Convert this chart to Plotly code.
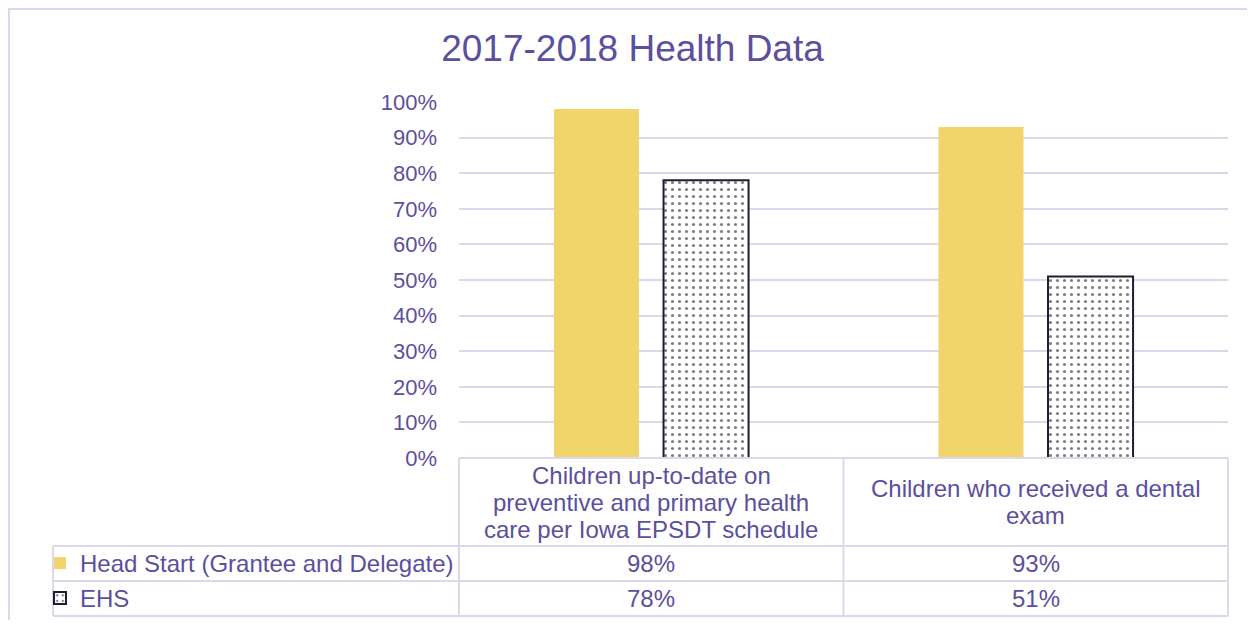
import plotly.graph_objects as go

categories = [
    "Children up-to-date on<br>preventive and primary health<br>care per Iowa EPSDT schedule",
    "Children who received a dental<br>exam",
]
series_names = ["Head Start (Grantee and Delegate)", "EHS"]
head_start = [0.98, 0.93]
ehs = [0.78, 0.51]
y_ticks = [0, 0.1, 0.2, 0.3, 0.4, 0.5, 0.6, 0.7, 0.8, 0.9, 1.0]

TXT = "#5b4f9f"
GRID = "#dcd8ec"
YEL = "#f2d46c"
DARK = "#1f1c33"
FONT = "Liberation Sans, Arial, sans-serif"

# page body has an 8px margin; figure sized to fit the window
OFF = 8
W, H = 1239, 612
L, R, T, B = 451, 19, 94, 162
pw = W - L - R
ph = H - T - B

def px(xw):  # window pixel -> paper x
    return (xw - OFF - L) / pw

def py(yw):  # window pixel -> paper y
    return (H - B - (yw - OFF)) / ph

fig = go.Figure()
fig.add_trace(go.Bar(
    x=[0, 1], y=head_start, name=series_names[0],
    marker=dict(color=YEL, line=dict(width=0)),
    legend="legend",
))
fig.add_trace(go.Bar(
    x=[0, 1], y=ehs, name=series_names[1],
    marker=dict(color="white", line=dict(color=DARK, width=2),
                pattern=dict(shape=".", fgcolor="#000000", bgcolor="white", size=7, solidity=0.16)),
    legend="legend2",
))

shapes = []
# outer chart border
shapes.append(dict(type="rect", xref="paper", yref="paper", x0=px(9), x1=px(1400), y0=py(800), y1=py(9),
                   line=dict(color=GRID, width=2), layer="below"))
# table lines
line = dict(color=GRID, width=2)
row_y = [546, 581, 616]
shapes.append(dict(type="line", xref="paper", yref="paper", x0=0, x1=1, y0=0, y1=0, line=line))
for yy in row_y:
    shapes.append(dict(type="line", xref="paper", yref="paper", x0=px(53), x1=1, y0=py(yy), y1=py(yy), line=line))
for xx in [0, 0.5, 1]:
    shapes.append(dict(type="line", xref="paper", yref="paper", x0=xx, x1=xx, y0=0, y1=py(616), line=line))
shapes.append(dict(type="line", xref="paper", yref="paper", x0=px(53), x1=px(53), y0=py(546), y1=py(616), line=line))

annotations = []
tfont = dict(size=24, color=TXT, family=FONT)
for i, c in enumerate(categories):
    lines = c.split("<br>")
    n = len(lines)
    for k, ln in enumerate(lines):
        yw = 502 + (k - (n - 1) / 2) * 27
        annotations.append(dict(x=i, xref="x", y=py(yw), yref="paper", text=ln, showarrow=False,
                                font=tfont, yanchor="middle", xanchor="center"))
    annotations.append(dict(x=i, xref="x", y=py(563.5), yref="paper", text=f"{round(head_start[i]*100)}%",
                            showarrow=False, font=tfont, yanchor="middle"))
    annotations.append(dict(x=i, xref="x", y=py(598.5), yref="paper", text=f"{round(ehs[i]*100)}%",
                            showarrow=False, font=tfont, yanchor="middle"))

leg = dict(xanchor="left", yanchor="middle", bgcolor="rgba(0,0,0,0)",
           font=tfont, itemwidth=30, borderwidth=0)

fig.update_layout(
    width=W, height=H,
    margin=dict(l=L, r=R, t=T, b=B, autoexpand=False),
    paper_bgcolor="white", plot_bgcolor="white",
    showlegend=True,
    title=dict(text="2017-2018 Health Data", x=(632.5 - OFF) / W, xanchor="center",
               y=1 - (48 - OFF) / H, yanchor="middle",
               font=dict(size=37, color=TXT, family=FONT)),
    font=dict(family=FONT, color=TXT, size=22),
    barmode="group", bargap=0.43, bargroupgap=0.224,
    xaxis=dict(range=[-0.5, 1.5], showticklabels=False, showgrid=False, zeroline=False, showline=False,
               tickvals=[0, 1], ticktext=categories, fixedrange=True),
    yaxis=dict(range=[0, 1], tickvals=y_ticks, tickformat=".0%", showgrid=True, gridcolor=GRID, gridwidth=2,
               zeroline=False, showline=False, ticklabelstandoff=21,
               tickfont=dict(size=22, color=TXT, family=FONT)),
    legend=dict(x=px(40), y=py(563.5), **leg),
    legend2=dict(x=px(40), y=py(598.5), **leg),
    shapes=shapes,
    annotations=annotations,
)

fig.write_html("out.html")
